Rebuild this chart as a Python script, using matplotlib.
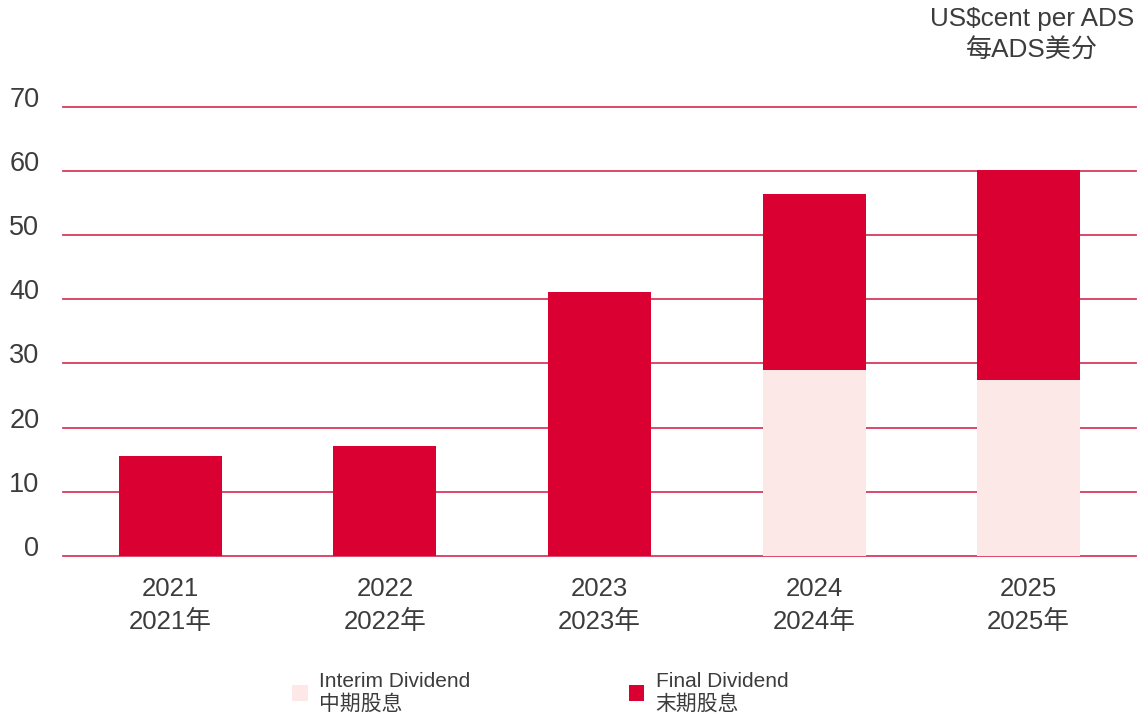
import matplotlib
matplotlib.use('Agg')
import matplotlib.pyplot as plt
from matplotlib.patches import Patch
import numpy as np

plt.rcParams['font.family'] = ['Liberation Sans', 'Noto Sans CJK SC']

# data (US cents per ADS)
years = ['2021', '2022', '2023', '2024', '2025']
year_labels = ['2021\n2021年', '2022\n2022年', '2023\n2023年', '2024\n2024年', '2025\n2025年']
interim = [0, 0, 0, 29.0, 27.4]
final = [15.6, 17.1, 41.1, 27.4, 32.7]
yticks = [0, 10, 20, 30, 40, 50, 60, 70]

c_final = '#DA0032'
c_interim = '#FDE8E8'
c_grid = '#D93A5E'
c_text = '#3C3C3C'

fig = plt.figure(figsize=(11.38, 7.17), dpi=100)
ax = fig.add_axes([63 / 1138, 1 - 556 / 717, (1136 - 63) / 1138, (556 - 106.7) / 717])

x = np.arange(len(years))
ax.bar(x, interim, width=0.48, color=c_interim, zorder=3)
ax.bar(x, final, width=0.48, bottom=interim, color=c_final, zorder=3)

ax.set_xlim(-0.5, 4.5)
ax.set_ylim(0, 70)
ax.set_yticks(yticks)
ax.set_yticklabels([str(v) for v in yticks])
for lbl in ax.get_yticklabels():
    lbl.set_va('baseline')
ax.set_xticks(x)
ax.set_xticklabels(year_labels, linespacing=1.5)
ax.tick_params(axis='y', length=0, pad=17, labelsize=19.5, labelcolor=c_text)
ax.tick_params(axis='x', length=0, pad=15, labelsize=18.5, labelcolor=c_text)
for v in yticks:
    ax.axhline(v, color=c_grid, lw=1.3, zorder=1, clip_on=False)
for s in ax.spines.values():
    s.set_visible(False)

# unit label
fig.text(1134 / 1138, 1 - 7 / 717, 'US$cent per ADS\n每ADS美分', ha='right', va='top',
         multialignment='center', fontsize=18.8, color=c_text, linespacing=1.4)

# legend
handles = [Patch(facecolor=c_interim), Patch(facecolor=c_final)]
labels = ['Interim Dividend\n中期股息', 'Final Dividend\n末期股息']
fig.legend(handles, labels, loc='upper left', bbox_to_anchor=(292 / 1138, 1 - 672 / 717),
           ncol=2, frameon=False, fontsize=15, labelcolor=c_text, handlelength=0.75,
           handleheight=0.75, handletextpad=0.55, columnspacing=7.6, borderpad=0,
           borderaxespad=0)

fig.savefig('out.png', dpi=100)
